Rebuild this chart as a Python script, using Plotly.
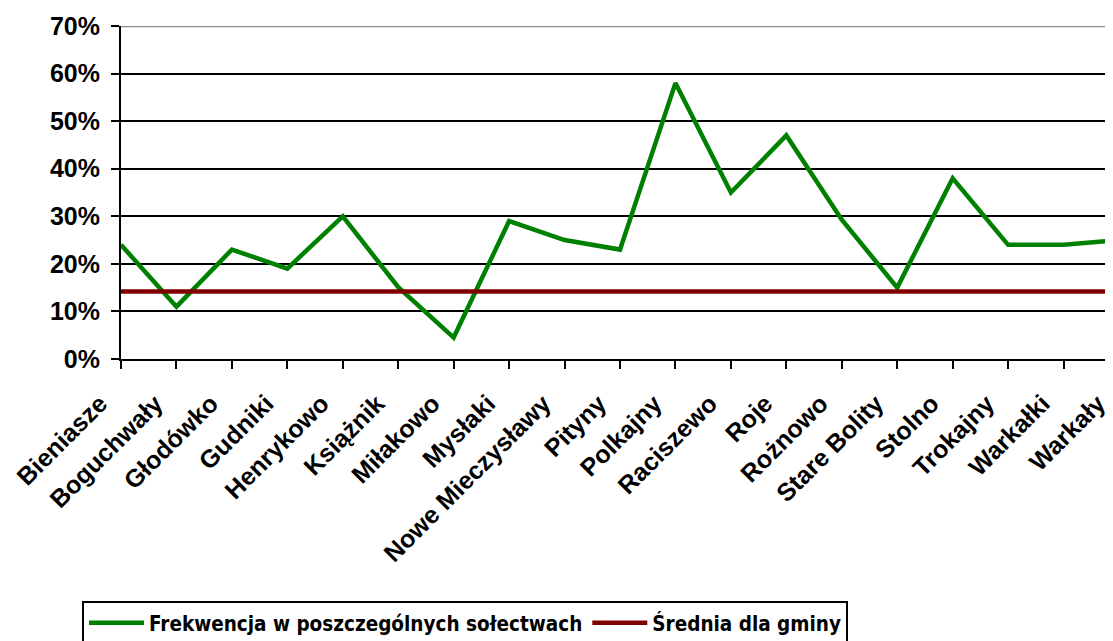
import plotly.graph_objects as go

categories = ["Bieniasze", "Boguchwały", "Głodówko", "Gudniki", "Henrykowo", "Książnik",
              "Miłakowo", "Mysłaki", "Nowe Mieczysławy", "Pityny", "Polkajny", "Raciszewo",
              "Roje", "Rożnowo", "Stare Bolity", "Stolno", "Trokajny", "Warkałki", "Warkały"]
turnout = [0.24, 0.11, 0.23, 0.19, 0.30, 0.151, 0.045, 0.29, 0.25, 0.23, 0.58, 0.35,
           0.47, 0.293, 0.15, 0.38, 0.24, 0.24, 0.25]
average = [0.142] * len(categories)
y_ticks = [0, 0.1, 0.2, 0.3, 0.4, 0.5, 0.6, 0.7]

FONT = "Liberation Sans, Arial, sans-serif"
NARROW = "DejaVu Sans Condensed, Liberation Sans Narrow, Arial Narrow, sans-serif"

W, H = 1111, 641

fig = go.Figure()
fig.add_trace(go.Scatter(x=categories, y=turnout, mode="lines",
                         name="Frekwencja w poszczególnych sołectwach",
                         line=dict(color="#008000", width=4.5)))
fig.add_trace(go.Scatter(x=categories, y=average, mode="lines",
                         name="Średnia dla gminy",
                         line=dict(color="#800000", width=4.5)))

fig.update_layout(
    width=W, height=H,
    margin=dict(l=113, r=0, t=18, b=290),
    paper_bgcolor="white", plot_bgcolor="white",
    font=dict(family=FONT, size=25, color="black", weight="bold"),
    showlegend=True,
    legend=dict(orientation="h", xref="container", yref="container",
                x=74 / W, y=1 - 593 / H, xanchor="left", yanchor="top",
                bordercolor="black", borderwidth=2, bgcolor="white",
                font=dict(family=NARROW, size=20.5, weight="bold"),
                itemwidth=55, tracegroupgap=0),
    xaxis=dict(type="category", range=[0, 18],
               showline=True, linecolor="black", linewidth=2,
               ticks="outside", ticklen=8, tickwidth=2, tickcolor="black",
               tickangle=-45, showgrid=False, zeroline=False,
               ticklabelstandoff=10, ticklabelshift=-21,
               tickfont=dict(family=FONT, size=25, weight="bold")),
    yaxis=dict(range=[0, 0.7], tickvals=y_ticks, tickformat=".0%",
               showline=True, linecolor="black", linewidth=2,
               ticks="outside", ticklen=8, tickwidth=2, tickcolor="black",
               showgrid=True, gridcolor="black", gridwidth=2, zeroline=False,
               ticklabelstandoff=6,
               tickfont=dict(family=FONT, size=25, weight="bold")),
    shapes=[dict(type="line", xref="paper", yref="y", x0=0, x1=1, y0=0.7, y1=0.7,
                 line=dict(color="#8c8c8c", width=2.5), layer="above")],
)

fig.write_html("out.html")
